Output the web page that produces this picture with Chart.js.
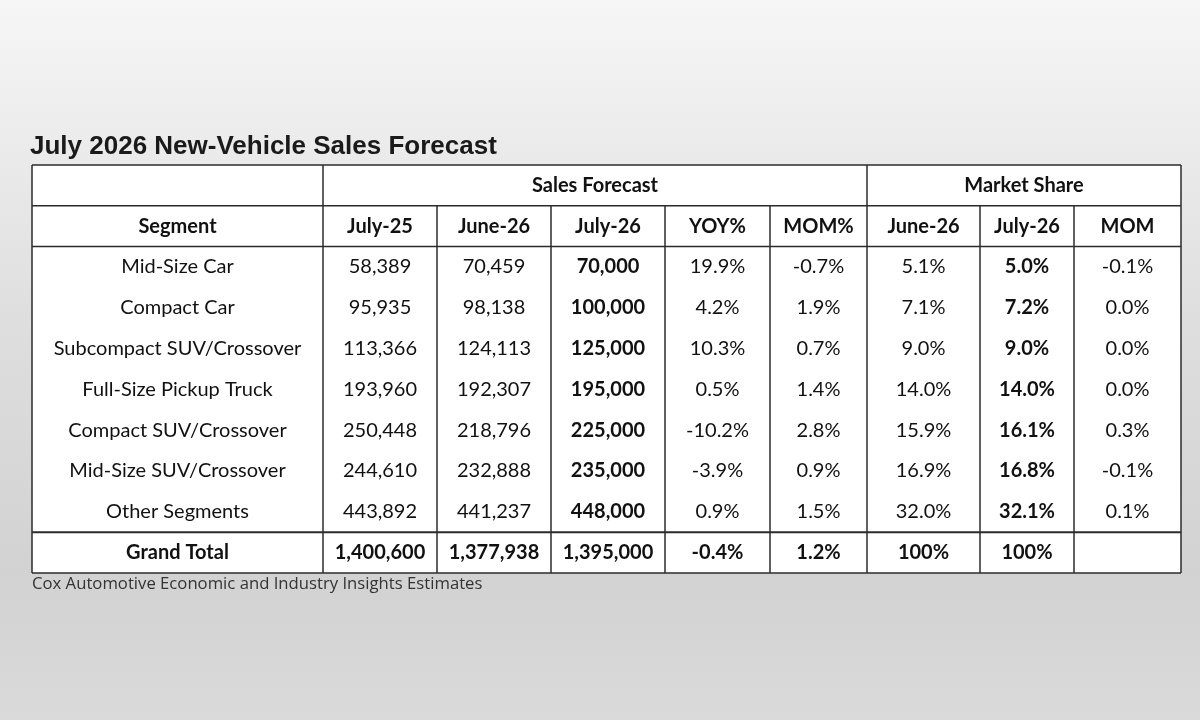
<!DOCTYPE html>
<html>
<head>
<meta charset="utf-8">
<script src="https://cdn.jsdelivr.net/npm/chart.js@4"></script>
<style>
  html, body { margin: 0; padding: 0; }
  #wrap { width: 1200px; height: 720px; }
</style>
</head>
<body>
<div id="wrap"><canvas id="table"></canvas></div>
<script>
const title = 'July 2026 New-Vehicle Sales Forecast';
const source = 'Cox Automotive Economic and Industry Insights Estimates';

const groupHeaders = [
    { label: '', from: 0, to: 1 },
    { label: 'Sales Forecast', from: 1, to: 6 },
    { label: 'Market Share', from: 6, to: 9 }
];
const columns = ['Segment', 'July-25', 'June-26', 'July-26', 'YOY%', 'MOM%', 'June-26', 'July-26', 'MOM'];
const segments = [
    'Mid-Size Car', 'Compact Car', 'Subcompact SUV/Crossover', 'Full-Size Pickup Truck',
    'Compact SUV/Crossover', 'Mid-Size SUV/Crossover', 'Other Segments'
];
const july25 = ['58,389', '95,935', '113,366', '193,960', '250,448', '244,610', '443,892'];
const june26 = ['70,459', '98,138', '124,113', '192,307', '218,796', '232,888', '441,237'];
const july26 = ['70,000', '100,000', '125,000', '195,000', '225,000', '235,000', '448,000'];
const yoy = ['19.9%', '4.2%', '10.3%', '0.5%', '-10.2%', '-3.9%', '0.9%'];
const mom = ['-0.7%', '1.9%', '0.7%', '1.4%', '2.8%', '0.9%', '1.5%'];
const shareJune26 = ['5.1%', '7.1%', '9.0%', '14.0%', '15.9%', '16.9%', '32.0%'];
const shareJuly26 = ['5.0%', '7.2%', '9.0%', '14.0%', '16.1%', '16.8%', '32.1%'];
const shareMom = ['-0.1%', '0.0%', '0.0%', '0.0%', '0.3%', '-0.1%', '0.1%'];
const totalRow = ['Grand Total', '1,400,600', '1,377,938', '1,395,000', '-0.4%', '1.2%', '100%', '100%', ''];

// layout: column widths in px-units of the x scale
const colWidths = [291, 114, 114, 114, 105, 97, 113, 94, 107];
const colEdges = [0];
colWidths.forEach(w => colEdges.push(colEdges[colEdges.length - 1] + w));
const boldCols = [3, 7];

// build rows: 0 = group header, 1 = column header, 2..8 data, 9 total
const rows = [];
segments.forEach((s, i) => {
    rows.push([s, july25[i], june26[i], july26[i], yoy[i], mom[i], shareJune26[i], shareJuly26[i], shareMom[i]]);
});

const points = [];
rows.forEach((r, ri) => r.forEach((txt, ci) => {
    points.push({ x: (colEdges[ci] + colEdges[ci + 1]) / 2, y: ri + 2.5, text: txt, bold: boldCols.includes(ci) });
}));
columns.forEach((txt, ci) => points.push({ x: (colEdges[ci] + colEdges[ci + 1]) / 2, y: 1.5, text: txt, bold: true }));
totalRow.forEach((txt, ci) => points.push({ x: (colEdges[ci] + colEdges[ci + 1]) / 2, y: 9.5, text: txt, bold: true }));
groupHeaders.forEach(g => points.push({ x: (colEdges[g.from] + colEdges[g.to]) / 2, y: 0.5, text: g.label, bold: true }));

const tablePlugin = {
    id: 'tablePlugin',
    beforeDraw(chart) {
        const { ctx, width, height, chartArea: a } = chart;
        const g = ctx.createLinearGradient(0, 0, 0, height);
        g.addColorStop(0, '#f6f6f6');
        g.addColorStop(0.45, '#dedede');
        g.addColorStop(0.8, '#d2d2d2');
        g.addColorStop(1, '#dadada');
        ctx.save();
        ctx.fillStyle = g;
        ctx.fillRect(0, 0, width, height);
        ctx.fillStyle = '#ffffff';
        ctx.fillRect(a.left, a.top, a.right - a.left, a.bottom - a.top);
        ctx.fillStyle = '#1a1a1a';
        ctx.font = 'bold 26px "Liberation Sans", Arial, sans-serif';
        ctx.textBaseline = 'bottom';
        ctx.fillText(title, 30, a.top - 5);
        ctx.fillStyle = '#333';
        ctx.font = '16.7px "Open Sans", sans-serif';
        ctx.textBaseline = 'top';
        ctx.fillText(source, 32, a.bottom + 3);
        ctx.restore();
    },
    afterDraw(chart) {
        const { ctx, scales: { x, y } } = chart;
        ctx.save();
        ctx.strokeStyle = '#2b2b2b';
        const hline = (r, w) => {
            ctx.lineWidth = w || 1.5;
            ctx.beginPath();
            ctx.moveTo(x.getPixelForValue(0), y.getPixelForValue(r));
            ctx.lineTo(x.getPixelForValue(colEdges[9]), y.getPixelForValue(r));
            ctx.stroke();
        };
        hline(0); hline(1); hline(2); hline(9, 2); hline(10);
        colEdges.forEach((e, i) => {
            const top = (i === 0 || i === 1 || i === 6 || i === 9) ? 0 : 1;
            ctx.lineWidth = 1.5;
            ctx.beginPath();
            ctx.moveTo(x.getPixelForValue(e), y.getPixelForValue(top));
            ctx.lineTo(x.getPixelForValue(e), y.getPixelForValue(10));
            ctx.stroke();
        });
        ctx.fillStyle = '#111';
        ctx.textAlign = 'center';
        ctx.textBaseline = 'middle';
        points.forEach(p => {
            ctx.font = (p.bold ? 'bold ' : '') + '20px Lato, "Open Sans", sans-serif';
            ctx.fillText(p.text, x.getPixelForValue(p.x), y.getPixelForValue(p.y));
        });
        ctx.restore();
    }
};

new Chart(document.getElementById('table'), {
    type: 'scatter',
    data: { datasets: [{ data: points, pointRadius: 0, pointHoverRadius: 0 }] },
    options: {
        responsive: true,
        maintainAspectRatio: false,
        animation: false,
        layout: { padding: { left: 32, right: 19, top: 165, bottom: 147 } },
        plugins: { legend: { display: false }, tooltip: { enabled: false } },
        scales: {
            x: { type: 'linear', min: 0, max: colEdges[9], display: false },
            y: { type: 'linear', min: 0, max: 10, reverse: true, display: false }
        }
    },
    plugins: [tablePlugin]
});
</script>
</body>
</html>
